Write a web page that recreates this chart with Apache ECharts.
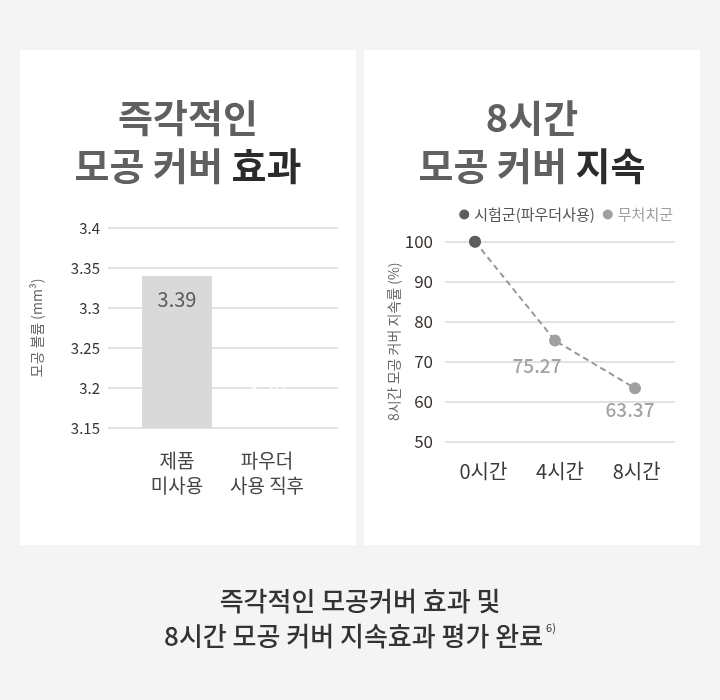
<!DOCTYPE html>
<html>
<head>
<meta charset="utf-8">
<script src="https://cdn.jsdelivr.net/npm/echarts@6/dist/echarts.min.js"></script>
<style>
html,body{margin:0;padding:0;background:#f4f4f4;}
#c{width:720px;height:700px;}
</style>
</head>
<body>
<div id="c"></div>
<script>
// ---- data ----
const barCategories = ['제품\n미사용', '파우더\n사용 직후'];
const poreVolume = [3.34, 3.23];
const poreVolumeLabels = ['3.39', '3.20'];
const volumeTicks = { min: 3.15, max: 3.4, interval: 0.05 };

const timeCategories = ['0시간', '4시간', '8시간'];
const testGroup = [100, null, null];          // 시험군(파우더사용)
const controlGroup = [100, 75.27, 63.37];     // 무처치군
const rateTicks = { min: 50, max: 100, interval: 10 };

const seriesNames = ['시험군(파우더사용)', '무처치군'];

// ---- styling ----
const FONT = '"Noto Sans CJK KR", "Noto Sans", sans-serif';
const GREY_T = '#5f6062';
const DARK_T = '#2b2b2b';
const GRID_C = '#e2e2e2';
const TICK_C = '#3a3431';
const TS = 38;

const chart = echarts.init(document.getElementById('c'), null, { renderer: 'canvas' });

const controlLabelOffsets = [null, [-18, 25], [-5, 22]];

const option = {
  backgroundColor: '#f4f4f4',
  textStyle: { fontFamily: FONT },
  animation: false,
  graphic: [
    { type: 'rect', shape: { x: 20, y: 50, width: 336, height: 495 }, style: { fill: '#fff' }, z: -10 },
    { type: 'rect', shape: { x: 364, y: 50, width: 336, height: 495 }, style: { fill: '#fff' }, z: -10 },
    { type: 'text', x: 188, y: 118, style: { text: '{g|즉각적인}', align: 'center', verticalAlign: 'middle',
        rich: { g: { fontSize: TS, fontWeight: 'bold', fill: GREY_T, fontFamily: FONT } } } },
    { type: 'text', x: 188, y: 166, style: { text: '{g|모공 커버 }{d|효과}', align: 'center', verticalAlign: 'middle',
        rich: { g: { fontSize: TS, fontWeight: 'bold', fill: GREY_T, fontFamily: FONT },
                d: { fontSize: TS, fontWeight: 'bold', fill: DARK_T, fontFamily: FONT } } } },
    { type: 'text', x: 532, y: 118, style: { text: '{g|8시간}', align: 'center', verticalAlign: 'middle',
        rich: { g: { fontSize: TS, fontWeight: 'bold', fill: GREY_T, fontFamily: FONT } } } },
    { type: 'text', x: 532, y: 166, style: { text: '{g|모공 커버 }{d|지속}', align: 'center', verticalAlign: 'middle',
        rich: { g: { fontSize: TS, fontWeight: 'bold', fill: GREY_T, fontFamily: FONT },
                d: { fontSize: TS, fontWeight: 'bold', fill: DARK_T, fontFamily: FONT } } } },
    { type: 'text', x: 360, y: 601, style: { text: '즉각적인 모공커버 효과 및', align: 'center', verticalAlign: 'middle',
        fontSize: 26, fontWeight: 500, fill: '#333', fontFamily: FONT } },
    { type: 'text', x: 360, y: 636, style: { text: '{m|8시간 모공 커버 지속효과 평가 완료}{s|6)}', align: 'center', verticalAlign: 'middle',
        rich: { m: { fontSize: 26, fontWeight: 500, fill: '#333', fontFamily: FONT },
                s: { fontSize: 11, fill: '#333', fontFamily: FONT, padding: [0, 0, 16, 3] } } } }
  ],
  legend: {
    top: 202, right: 42,
    icon: 'circle', itemWidth: 10, itemHeight: 10, itemGap: 8,
    textStyle: { fontSize: 15, fontFamily: FONT },
    data: [
      { name: seriesNames[0], textStyle: { color: '#555' } },
      { name: seriesNames[1], textStyle: { color: '#a0a0a0' } }
    ]
  },
  grid: [
    { left: 108, width: 230, top: 228, height: 200 },
    { left: 132, width: 180, top: 228, height: 200 },
    { left: 445, width: 230, top: 241.7, height: 200 },
    { left: 435, width: 240, top: 241.7, height: 200 }
  ],
  xAxis: [
    { gridIndex: 0, type: 'category', data: barCategories, show: false },
    { gridIndex: 1, type: 'category', data: barCategories,
      axisLine: { show: false }, axisTick: { show: false },
      axisLabel: { interval: 0, hideOverlap: false, margin: 20, fontSize: 19, lineHeight: 25, color: '#444', fontFamily: FONT } },
    { gridIndex: 2, type: 'category', data: timeCategories,
      axisLine: { show: false }, axisTick: { show: false },
      axisLabel: { interval: 0, margin: 20, fontSize: 20, color: '#3a3a3a', fontFamily: FONT } },
    { gridIndex: 3, type: 'category', data: timeCategories, show: false }
  ],
  yAxis: [
    { gridIndex: 0, type: 'value', min: volumeTicks.min, max: volumeTicks.max, interval: volumeTicks.interval,
      name: '모공 볼륨 (mm³)', nameLocation: 'middle', nameGap: 64, nameRotate: 90,
      nameTextStyle: { fontSize: 14, color: '#666', fontFamily: FONT },
      axisLine: { show: false }, axisTick: { show: false },
      axisLabel: { margin: 8, fontSize: 15, color: TICK_C, fontFamily: FONT },
      splitLine: { lineStyle: { color: GRID_C, width: 2 } } },
    { gridIndex: 1, type: 'value', min: volumeTicks.min, max: volumeTicks.max, interval: volumeTicks.interval, show: false,
      splitLine: { show: false } },
    { gridIndex: 2, type: 'value', min: rateTicks.min, max: rateTicks.max, interval: rateTicks.interval,
      name: '8시간 모공 커버 지속률 (%)', nameLocation: 'middle', nameGap: 43, nameRotate: 90,
      nameTextStyle: { fontSize: 14, color: '#666', fontFamily: FONT },
      axisLine: { show: false }, axisTick: { show: false },
      axisLabel: { margin: 12, fontSize: 17, color: TICK_C, fontFamily: FONT },
      splitLine: { lineStyle: { color: GRID_C, width: 2 } } },
    { gridIndex: 3, type: 'value', min: rateTicks.min, max: rateTicks.max, interval: rateTicks.interval, show: false,
      splitLine: { show: false } }
  ],
  series: [
    {
      type: 'bar', xAxisIndex: 1, yAxisIndex: 1, barWidth: 70,
      data: poreVolume.map((v, i) => ({
        value: v,
        itemStyle: { color: i === 0 ? '#d9d9d9' : 'rgba(255,255,255,0)' },
        label: { color: i === 0 ? '#5a5a5a' : '#ffffff' }
      })),
      label: { show: true, position: 'insideTop', distance: 13, fontSize: 20, fontFamily: FONT,
        formatter: p => poreVolumeLabels[p.dataIndex] }
    },
    {
      name: seriesNames[1], type: 'line', xAxisIndex: 3, yAxisIndex: 3,
      data: controlGroup.map((v, i) => controlLabelOffsets[i]
        ? { value: v, label: { show: true, position: 'inside', offset: controlLabelOffsets[i] } }
        : { value: v }),
      symbol: 'circle', symbolSize: 12,
      itemStyle: { color: '#a0a0a0' },
      lineStyle: { color: '#999', width: 2, type: [6, 4] },
      label: { show: false, fontSize: 19, color: '#a3a3a3', fontFamily: FONT, fontWeight: 500 },
      z: 2
    },
    {
      name: seriesNames[0], type: 'line', xAxisIndex: 3, yAxisIndex: 3,
      data: testGroup,
      symbol: 'circle', symbolSize: 12,
      itemStyle: { color: '#5c5d5f' },
      lineStyle: { color: '#5c5d5f', width: 2 },
      z: 3
    }
  ]
};
chart.setOption(option);
</script>
</body>
</html>
